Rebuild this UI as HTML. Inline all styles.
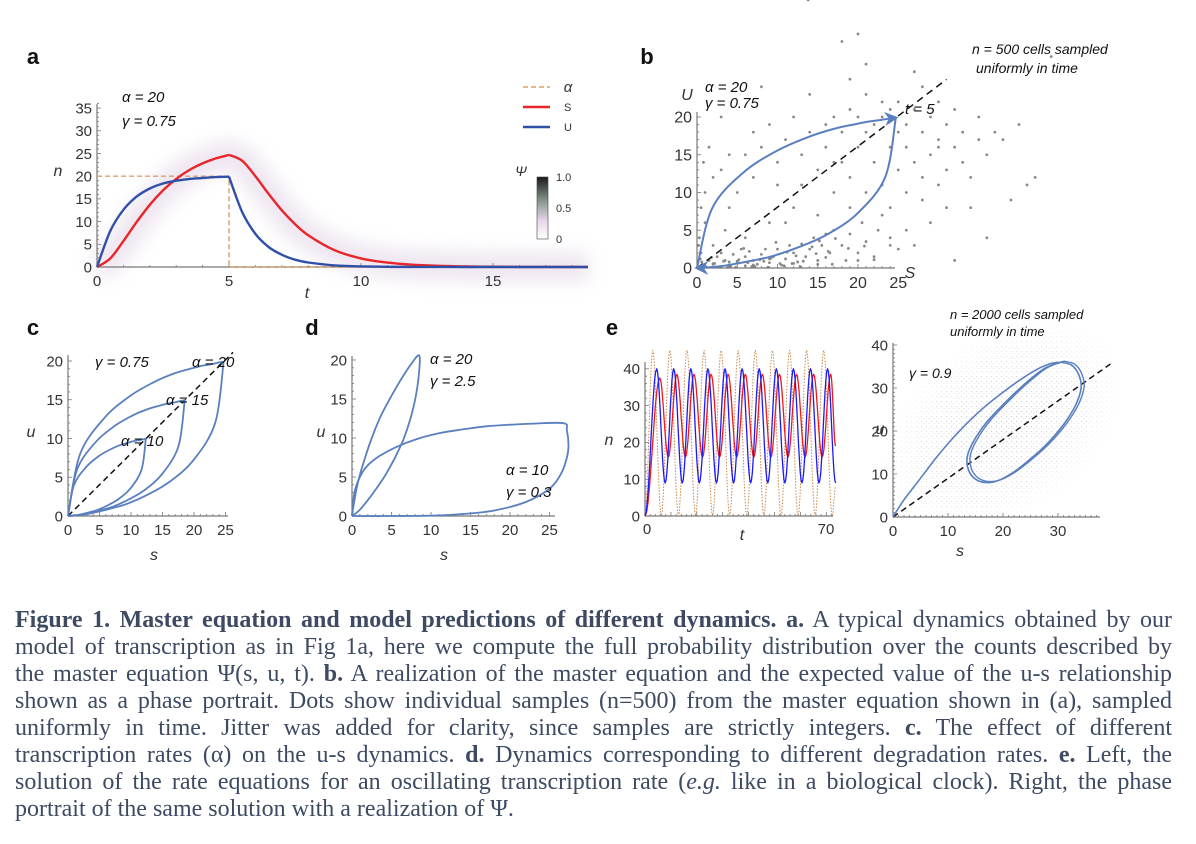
<!DOCTYPE html>
<html><head><meta charset="utf-8">
<style>
html,body{margin:0;padding:0;background:#fff;}
body{width:1196px;height:844px;position:relative;overflow:hidden;font-family:"Liberation Sans",sans-serif;}
svg{position:absolute;left:0;top:0;}
#caption{position:absolute;left:15px;top:607px;width:1157px;font-family:"Liberation Serif",serif;font-size:24px;line-height:27px;color:#3d4a62;}
#caption div{text-align:justify;text-align-last:justify;white-space:nowrap;}
#caption div.last{text-align-last:left;}
</style></head>
<body>
<svg id="fig" width="1196" height="600" viewBox="0 0 1196 600">
<defs>
<filter id="blur8" x="-50%" y="-50%" width="200%" height="200%"><feGaussianBlur stdDeviation="9"/></filter>
<linearGradient id="cbar" x1="0" y1="1" x2="0" y2="0">
<stop offset="0" stop-color="#ffffff"/><stop offset="0.3" stop-color="#e6d5e8"/><stop offset="0.6" stop-color="#8a9a90"/><stop offset="1" stop-color="#1a1a1a"/>
</linearGradient>
<marker id="arr" viewBox="0 0 10 10" refX="8" refY="5" markerWidth="7" markerHeight="7" orient="auto"><path d="M0,0 L10,5 L0,10 L3,5 z" fill="#5a7fbf"/></marker>
<pattern id="dots" width="5" height="5" patternUnits="userSpaceOnUse"><rect x="1" y="1" width="1.2" height="1.2" fill="#888"/><rect x="3.5" y="3" width="1" height="1" fill="#999"/></pattern>
<radialGradient id="cloudg" cx="0.5" cy="0.5" r="0.5"><stop offset="0" stop-color="#fff" stop-opacity="0.75"/><stop offset="0.7" stop-color="#fff" stop-opacity="0.4"/><stop offset="1" stop-color="#fff" stop-opacity="0"/></radialGradient>
<mask id="cloudmask"><ellipse cx="1003" cy="425" rx="135" ry="90" transform="rotate(-35 1003 425)" fill="url(#cloudg)"/></mask>
</defs>
<g id="pa"></g>
<g id="pb"></g>
<g id="pc"></g>
<g id="pd"></g>
<g id="pe1"></g>
<g id="pe2"></g>
</svg>
<div id="caption">
<div><b>Figure 1. Master equation and model predictions of different dynamics. a.</b> A typical dynamics obtained by our</div>
<div>model of transcription as in Fig 1a, here we compute the full probability distribution over the counts described by</div>
<div>the master equation Ψ(s, u, t). <b>b.</b> A realization of the master equation and the expected value of the u-s relationship</div>
<div>shown as a phase portrait. Dots show individual samples (n=500) from the master equation shown in (a), sampled</div>
<div>uniformly in time. Jitter was added for clarity, since samples are strictly integers. <b>c.</b> The effect of different</div>
<div>transcription rates (α) on the u-s dynamics. <b>d.</b> Dynamics corresponding to different degradation rates. <b>e.</b> Left, the</div>
<div>solution of the rate equations for an oscillating transcription rate (<i>e.g.</i> like in a biological clock). Right, the phase</div>
<div class="last">portrait of the same solution with a realization of Ψ.</div>
</div>
<script>
// ---- Panel a data (rise: t 0..5, decay: t 5..end) ----
const tRise=[0,0.5,1,1.5,2,2.5,3,3.5,4,4.5,5];
const uRise=[0,7.9,12.6,15.5,17.3,18.4,19.0,19.4,19.6,19.8,19.9];
const sRise=[0,1.88,5.71,9.88,13.7,16.88,19.41,21.36,22.83,23.91,24.7];
const tDecay=[5,5.5,6,6.5,7,7.5,8,9,10,11,12,14,16,18.6];
const sDecay=[24.7,23.4,20.0,16.1,12.5,9.45,7.0,3.7,1.9,0.96,0.48,0.12,0.03,0];
const uDecay=[19.9,12.1,7.3,4.4,2.7,1.6,1.0,0.36,0.13,0.05,0.02,0,0,0];
const alphaA=20, tOff=5;
const aXTicks=[0,5,10,15], aYTicks=[0,5,10,15,20,25,30,35];
// ---- Panel b scatter samples (s,u) ----
const bSamplesS=[1,1.5,2,2.5,3,3,3.5,4,4.5,5,5.5,6,6,6.5,7,7.5,8,8.5,9,9.5,10,10.5,11,11.5,12,12.5,13,13.5,14,14.5,15,15.5,16,16.5,17,18,18.5,19,20,20.5,21,22,22.5,23,24,25,0.5,0.3,1,0.5,1,2,0.8,1.5,3,4,3.5,5,6,7,7,8,9,9,10,10,11,12,12,13,13,14,15,15,16,16,17,17,18,18,19,19,19,20,20,21,21,21,22,22,23,23,24,24,24,25,25,25,26,26,26,26,27,27,27,28,28,28,29,29,29,30,30,30,31,31,31,32,32,33,33,34,35,35,36,37,38,40,41,39,36,34,32,28,27,21,19,14,8,3,24,20,15,6,2,17,11,4,2,4,7,9,5,12,16,22,30,42,44,20,23,18,1.2,2.2,3.3,4.2,5.2,6.3,7.2,8.3,9.2,10.3,11.2,12.3,13.2,14.3,15.2,16.3,17.2,2.8,4.8,6.8,8.8,10.8,12.8,14.8,16.8,18.8,20.8,0.4,0.6,0.2,1.8,3.8,5.8,7.8,9.8,11.8,13.8];
const bSamplesU=[0.3,1,0.5,1.5,0.2,2,1,0.4,1.8,0.8,2.5,0.3,1.5,2.2,1,0.5,1.8,2.5,0.7,1.5,2.5,0.4,1.2,3,2,0.8,3.2,1.5,2.5,4,1,3,4.5,2,5,3,1,4.5,2,6,3.5,1.5,5,7,4,2.5,2,4,6,8,10,12,14,16,13,8,5,10,15,12,18,16,6,19,11,14,17,8,20,15,11,18,7,13,19,16,10,20,14,18,8,12,21,16,20,10,18,23,14,19,11,20,16,21,8,18,13,22,10,16,19,5,14,21,3,18,9,12,20,15,6,17,11,22,19,13,8,16,21,14,18,12,17,20,15,18,17,19,11,9,4,8,1,24,26,27,25,23,24,20,3,1,0.5,4,3,14,6,15,0.6,0.8,0.4,1.2,0.9,0.6,1.4,1.1,16,12,28,31,22,30,0.1,0.6,0.9,0.2,1.1,0.7,0.2,0.9,1.3,0.6,2.1,1.6,0.9,2.8,3.6,2.2,3.9,0.1,0.1,0.2,0.1,0.3,0.2,1.9,0.5,2.6,2.9,1.2,0.8,3,1.4,0.2,2.6,1.1,3.4,0.6];
// ---- Panel c: alpha values, same shape scaled ----
const cAlphas=[10,15,20];
// ---- Panel d curves (s,u) ----
const d1S=[0,0.3,0.8,1.5,2.5,3.5,4.5,5.5,6.5,7.5,8.5,8.5,8.1,7.4,6.5,5.4,4.2,3.0,1.9,0.9,0];
const d1U=[0,2,4.5,7,10,12.5,14.5,16.3,18,19.5,20.6,18.5,15.5,12.5,9.8,7.4,5.2,3.4,1.9,0.7,0];
const d2S=[0,0.3,1,2,3.5,5.5,8,11,14,17,20,23,26.8,27.2,27.4,27.2,26.5,25,22,18,14,10,5,0];
const d2U=[0,3,5,6.5,7.7,8.8,9.8,10.6,11.1,11.5,11.7,11.85,11.9,11,9,7.5,5.5,3.5,1.8,0.7,0.25,0.05,0,0];
// ---- Panel e left: extrema of oscillating series (time, value) ----
const eUT=[0,4.5,7.8,11.1,14.4,17.7,21,24.3,27.6,30.9,34.2,37.5,40.8,44.1,47.4,50.7,54,57.3,60.6,63.9,67.2,70.5,73.6];
const eUV=[0,40,9,40,9,40,9,40,9,40,9,40,9,40,9,40,9,40,9,40,9,40,9];
const eST=[0,5.7,9,12.3,15.6,18.9,22.2,25.5,28.8,32.1,35.4,38.7,42,45.3,48.6,51.9,55.2,58.5,61.8,65.1,68.4,71.7,73.6];
const eSV=[0,37.5,16,38.5,16,38.5,16,38.5,16,38.5,16,38.5,16,38.5,16,38.5,16,38.5,16,38.5,16,38.5,19];
const eAT=[0,3,6.3,9.6,12.9,16.2,19.5,22.8,26.1,29.4,32.7,36,39.3,42.6,45.9,49.2,52.5,55.8,59.1,62.4,65.7,69,72.3,73.6];
const eAV=[0,45,0,45,0,45,0,45,0,45,0,45,0,45,0,45,0,45,0,45,0,45,0,8];
// ---- Panel e right: trajectory (s,u) ----
const eTransS=[0,2,5,8,11,14,17,20,23,26,28.5,30.5];
const eTransU=[0,4,9,14,18.5,22.5,26,29,31.8,34.2,35.6,36];
const eCycS=[30.5,32.5,33.8,34.2,33.2,31,28,25,22,19.2,17,15,13.7,13.5,14.6,17,20.3,24,27.5,30.5];
const eCycU=[36,35.3,33,30,26,21.5,17,13.5,10.5,8.5,8,8.8,11,14,17.5,22,26.5,31,34.5,36];

const NS='http://www.w3.org/2000/svg';
function mk(tag,attrs,parent){const e=document.createElementNS(NS,tag);for(const k in attrs)e.setAttribute(k,attrs[k]);parent.appendChild(e);return e;}
function txt(parent,x,y,s,opt){const e=mk('text',{x:x,y:y,'font-size':opt.size||15,'text-anchor':opt.anchor||'middle',fill:opt.fill||'#333','font-family':'"Liberation Sans",sans-serif'},parent);if(opt.italic)e.setAttribute('font-style','italic');if(opt.bold)e.setAttribute('font-weight','bold');e.textContent=s;return e;}
function smooth(P){let d='M'+P[0][0].toFixed(1)+','+P[0][1].toFixed(1);for(let i=0;i<P.length-1;i++){const p0=P[i-1]||P[i],p1=P[i],p2=P[i+1],p3=P[i+2]||P[i+1];const c1=[p1[0]+(p2[0]-p0[0])/6,p1[1]+(p2[1]-p0[1])/6],c2=[p2[0]-(p3[0]-p1[0])/6,p2[1]-(p3[1]-p1[1])/6];d+=' C'+c1[0].toFixed(1)+','+c1[1].toFixed(1)+' '+c2[0].toFixed(1)+','+c2[1].toFixed(1)+' '+p2[0].toFixed(1)+','+p2[1].toFixed(1);}return d;}
function pts(X,Y,xs,ys,k){k=k||1;return xs.map((v,i)=>[X(v*k),Y(ys[i]*k)]);}

function axes(g,X,Y,o){
  const ax=mk('line',{x1:X(0),y1:Y(0),x2:o.xEnd,y2:Y(0),stroke:'#777','stroke-width':1.2},g);
  
  
  const ay=mk('line',{x1:X(0),y1:Y(0),x2:X(0),y2:o.yTop,stroke:'#777','stroke-width':1.2},g);
  
  
  for(let v=0;X(v)<=o.xEnd+0.5;v+=o.xMinor){const big=Math.abs(v/o.xMajor-Math.round(v/o.xMajor))<1e-6;const t=mk('line',{x1:X(v),y1:Y(0),x2:X(v),y2:Y(0)-(big?4:2),stroke:'#777','stroke-width':0.8},g);
    
    }
  for(let v=0;Y(v)>=o.yTop-0.5;v+=o.yMinor){const big=Math.abs(v/o.yMajor-Math.round(v/o.yMajor))<1e-6;const t=mk('line',{x1:X(0),y1:Y(v),x2:X(0)+(big?4:2),y2:Y(v),stroke:'#777','stroke-width':0.8},g);
    
    }
  o.xT.forEach(v=>{const t=txt(g,X(v),Y(0)+o.fs+4,String(v),{size:o.fs});
    
    });
  o.yT.forEach(v=>{const t=txt(g,X(0)-5,Y(v)+o.fs*0.35,String(v),{size:o.fs,anchor:'end'});
    
    });
}
function line(g,d,stroke,w,name,extra){const p=mk('path',Object.assign({d:d,fill:'none',stroke:stroke,'stroke-width':w,'stroke-linejoin':'round'},extra||{}),g);return p;}
function label(g,x,y,s,opt,name){const t=txt(g,x,y,s,opt);return t;}

// ===== Panel a =====
(function(){
const g=document.getElementById('pa');
const X=t=>97+t*26.4, Y=n=>267-n*4.54;
label(g,33,64,'a',{size:22,bold:true,fill:'#111'},'panel-label-a');
line(g,smooth(pts(X,Y,tRise,sRise))+' '+smooth(pts(X,Y,tDecay,sDecay)).replace('M','L'),'#c4a8cc',28,'psi-density-haze',{opacity:0.3,filter:'url(#blur8)'});
axes(g,X,Y,{xEnd:588,yTop:104,xMinor:1,xMajor:5,yMinor:1,yMajor:5,xT:aXTicks,yT:aYTicks,fs:15});
const ad='M'+X(0)+','+Y(alphaA)+' L'+X(tOff)+','+Y(alphaA)+' L'+X(tOff)+','+Y(0)+' L588,'+Y(0);
line(g,ad,'#d9a26a',1.4,'alpha-step-line',{'stroke-dasharray':'5,3'});
line(g,smooth(pts(X,Y,tRise,sRise)),'#e8262a',2.4,'s-curve-rise');
line(g,smooth(pts(X,Y,tDecay,sDecay)),'#e8262a',2.4,'s-curve-decay');
line(g,smooth(pts(X,Y,tRise,uRise)),'#3050a8',2.4,'u-curve-rise');
line(g,smooth(pts(X,Y,tDecay,uDecay)),'#3050a8',2.4,'u-curve-decay');
label(g,307,298,'t',{size:16,italic:true},'x-axis-title');
label(g,58,176,'n',{size:16,italic:true},'y-axis-title');
label(g,122,102,'α = 20',{size:15,italic:true,anchor:'start',fill:'#111'},'alpha-annotation');
label(g,122,126,'γ = 0.75',{size:15,italic:true,anchor:'start',fill:'#111'},'gamma-annotation');
line(g,'M523,87 L550,87','#d9a26a',1.6,'legend-alpha-swatch',{'stroke-dasharray':'5,3'});
label(g,568,92,'α',{size:15,italic:true,anchor:'middle'},'legend-alpha-label');
line(g,'M523,107 L550,107','#e8262a',2.4,'legend-s-swatch');
label(g,564,111,'S',{size:11,anchor:'start'},'legend-s-label');
line(g,'M523,127 L550,127','#3050a8',2.4,'legend-u-swatch');
label(g,564,131,'U',{size:11,anchor:'start'},'legend-u-label');
const cb=mk('rect',{x:537,y:177,width:11,height:62,fill:'url(#cbar)',stroke:'#444','stroke-width':0.6},g);


label(g,521,176,'Ψ',{size:14,italic:true},'colorbar-title');
label(g,556,181,'1.0',{size:11,anchor:'start'},'colorbar-label-max');
label(g,556,212,'0.5',{size:11,anchor:'start'},'colorbar-label-mid');
label(g,556,243,'0',{size:11,anchor:'start'},'colorbar-label-min');
})();

// ===== Panel b =====
(function(){
const g=document.getElementById('pb');
const X=s=>697+s*8.05, Y=u=>268-u*7.55;
label(g,647,64,'b',{size:22,bold:true,fill:'#111'},'panel-label-b');
bSamplesS.forEach((s,i)=>{const c=mk('circle',{cx:X(s),cy:Y(bSamplesU[i]),r:1.4,fill:'#888'},g);
  
  });
axes(g,X,Y,{xEnd:895,yTop:112,xMinor:1,xMajor:5,yMinor:1,yMajor:5,xT:[0,5,10,15,20,25],yT:[0,5,10,15,20],fs:16});
line(g,'M'+X(0)+','+Y(0)+' L'+X(31)+','+Y(31*0.806),'#111',1.5,'diagonal-reference',{'stroke-dasharray':'7,5'});
line(g,smooth(pts(X,Y,sRise,uRise)),'#5a7fbf',2,'trajectory-rise',{'marker-end':'url(#arr)'});
line(g,smooth(pts(X,Y,sDecay,uDecay)),'#5a7fbf',2,'trajectory-decay',{'marker-end':'url(#arr)'});
label(g,687,100,'U',{size:16,italic:true},'y-axis-title');
label(g,910,278,'S',{size:16,italic:true},'x-axis-title');
label(g,705,92,'α = 20',{size:15,italic:true,anchor:'start',fill:'#111'},'alpha-annotation');
label(g,705,108,'γ = 0.75',{size:15,italic:true,anchor:'start',fill:'#111'},'gamma-annotation');
label(g,905,114,'t = 5',{size:15,italic:true,anchor:'start',fill:'#111'},'t5-annotation');
label(g,972,54,'n = 500 cells sampled',{size:14,italic:true,anchor:'start',fill:'#111'},'sample-note-line1');
label(g,976,73,'uniformly in time',{size:14,italic:true,anchor:'start',fill:'#111'},'sample-note-line2');
})();

// ===== Panel c =====
(function(){
const g=document.getElementById('pc');
const X=s=>68+s*6.3, Y=u=>516-u*7.75;
label(g,33,335,'c',{size:22,bold:true,fill:'#111'},'panel-label-c');
axes(g,X,Y,{xEnd:228,yTop:355,xMinor:1,xMajor:5,yMinor:1,yMajor:5,xT:[0,5,10,15,20,25],yT:[0,5,10,15,20],fs:15});
line(g,'M'+X(0)+','+Y(0)+' L'+X(26.2)+','+Y(26.2*0.806),'#111',1.5,'diagonal-reference',{'stroke-dasharray':'6,4'});
cAlphas.forEach(a=>{const k=a/alphaA;
  line(g,smooth(pts(X,Y,sRise,uRise,k))+' '+smooth(pts(X,Y,sDecay,uDecay,k)).replace('M','L'),'#5a7fbf',1.8,'trajectory-alpha-'+a);});
label(g,154,560,'s',{size:16,italic:true},'x-axis-title');
label(g,31,437,'u',{size:16,italic:true},'y-axis-title');
label(g,95,367,'γ = 0.75',{size:15,italic:true,anchor:'start',fill:'#111'},'gamma-annotation');
label(g,192,367,'α = 20',{size:15,italic:true,anchor:'start',fill:'#111'},'alpha-20-label');
label(g,166,405,'α = 15',{size:15,italic:true,anchor:'start',fill:'#111'},'alpha-15-label');
label(g,121,446,'α = 10',{size:15,italic:true,anchor:'start',fill:'#111'},'alpha-10-label');
})();

// ===== Panel d =====
(function(){
const g=document.getElementById('pd');
const X=s=>352+s*7.9, Y=u=>516-u*7.8;
label(g,312,335,'d',{size:22,bold:true,fill:'#111'},'panel-label-d');
axes(g,X,Y,{xEnd:555,yTop:356,xMinor:1,xMajor:5,yMinor:1,yMajor:5,xT:[0,5,10,15,20,25],yT:[0,5,10,15,20],fs:15});
line(g,smooth(pts(X,Y,d1S,d1U)),'#5a7fbf',1.8,'trajectory-gamma-2.5');
line(g,smooth(pts(X,Y,d2S,d2U)),'#5a7fbf',1.8,'trajectory-gamma-0.3');
label(g,444,560,'s',{size:16,italic:true},'x-axis-title');
label(g,321,437,'u',{size:16,italic:true},'y-axis-title');
label(g,430,364,'α = 20',{size:15,italic:true,anchor:'start',fill:'#111'},'alpha-20-label');
label(g,430,386,'γ = 2.5',{size:15,italic:true,anchor:'start',fill:'#111'},'gamma-2.5-label');
label(g,506,475,'α = 10',{size:15,italic:true,anchor:'start',fill:'#111'},'alpha-10-label');
label(g,506,497,'γ = 0.3',{size:15,italic:true,anchor:'start',fill:'#111'},'gamma-0.3-label');
})();

// ===== Panel e left =====
(function(){
const g=document.getElementById('pe1');
const X=t=>645+t*2.59, Y=n=>516-n*3.68;
label(g,612,335,'e',{size:22,bold:true,fill:'#111'},'panel-label-e');
function osc(T,V){const P=[];for(let i=0;i<T.length-1;i++){const steps=10;for(let j=(i?1:0);j<=steps;j++){const f=j/steps,tt=T[i]+(T[i+1]-T[i])*f,vv=V[i]+(V[i+1]-V[i])*(1-Math.cos(Math.PI*f))/2;P.push(X(tt).toFixed(1)+','+Y(vv).toFixed(1));}}return 'M'+P.join(' L');}
axes(g,X,Y,{xEnd:833,yTop:362,xMinor:2,xMajor:10,yMinor:2,yMajor:10,xT:[],yT:[0,10,20,30,40],fs:15});
[[0,647],[70,826]].forEach(p=>{const t=txt(g,p[1],534,String(p[0]),{size:15});
  
  });
line(g,osc(eAT,eAV),'#c9874a',1,'alpha-oscillation',{'stroke-dasharray':'1.5,1.5'});
line(g,osc(eST,eSV),'#f01818',1.3,'s-oscillation');
line(g,osc(eUT,eUV),'#1a1aff',1.3,'u-oscillation');
label(g,742,540,'t',{size:16,italic:true},'x-axis-title');
label(g,609,445,'n',{size:16,italic:true},'y-axis-title');
})();

// ===== Panel e right =====
(function(){
const g=document.getElementById('pe2');
const X=s=>893+s*5.5, Y=u=>517-u*4.3;
const cl=mk('rect',{x:870,y:300,width:260,height:220,fill:'url(#dots)',mask:'url(#cloudmask)',opacity:0.6},g);


axes(g,X,Y,{xEnd:1100,yTop:343,xMinor:1,xMajor:10,yMinor:1,yMajor:10,xT:[0,10,20,30],yT:[0,10,20,30,40],fs:15});
line(g,'M'+X(0)+','+Y(0)+' L'+X(40)+','+Y(36),'#111',1.5,'diagonal-reference',{'stroke-dasharray':'6,4'});
line(g,smooth(pts(X,Y,eTransS,eTransU)),'#5a7fbf',1.6,'transient-trajectory');
line(g,smooth(pts(X,Y,eCycS,eCycU)),'#5a7fbf',1.6,'limit-cycle');
const c2=line(g,smooth(pts(X,Y,eCycS,eCycU)),'#5a7fbf',1.4,'limit-cycle-second-loop');
c2.setAttribute('transform','translate(3,-1)');
label(g,960,556,'s',{size:16,italic:true},'x-axis-title');
label(g,880,434,'u',{size:16,italic:true},'y-axis-title');
label(g,909,378,'γ = 0.9',{size:14,italic:true,anchor:'start',fill:'#111'},'gamma-annotation');
label(g,950,319,'n = 2000 cells sampled',{size:13,italic:true,anchor:'start',fill:'#111'},'sample-note-line1');
label(g,950,336,'uniformly in time',{size:13,italic:true,anchor:'start',fill:'#111'},'sample-note-line2');
})();
</script>
</body></html>
